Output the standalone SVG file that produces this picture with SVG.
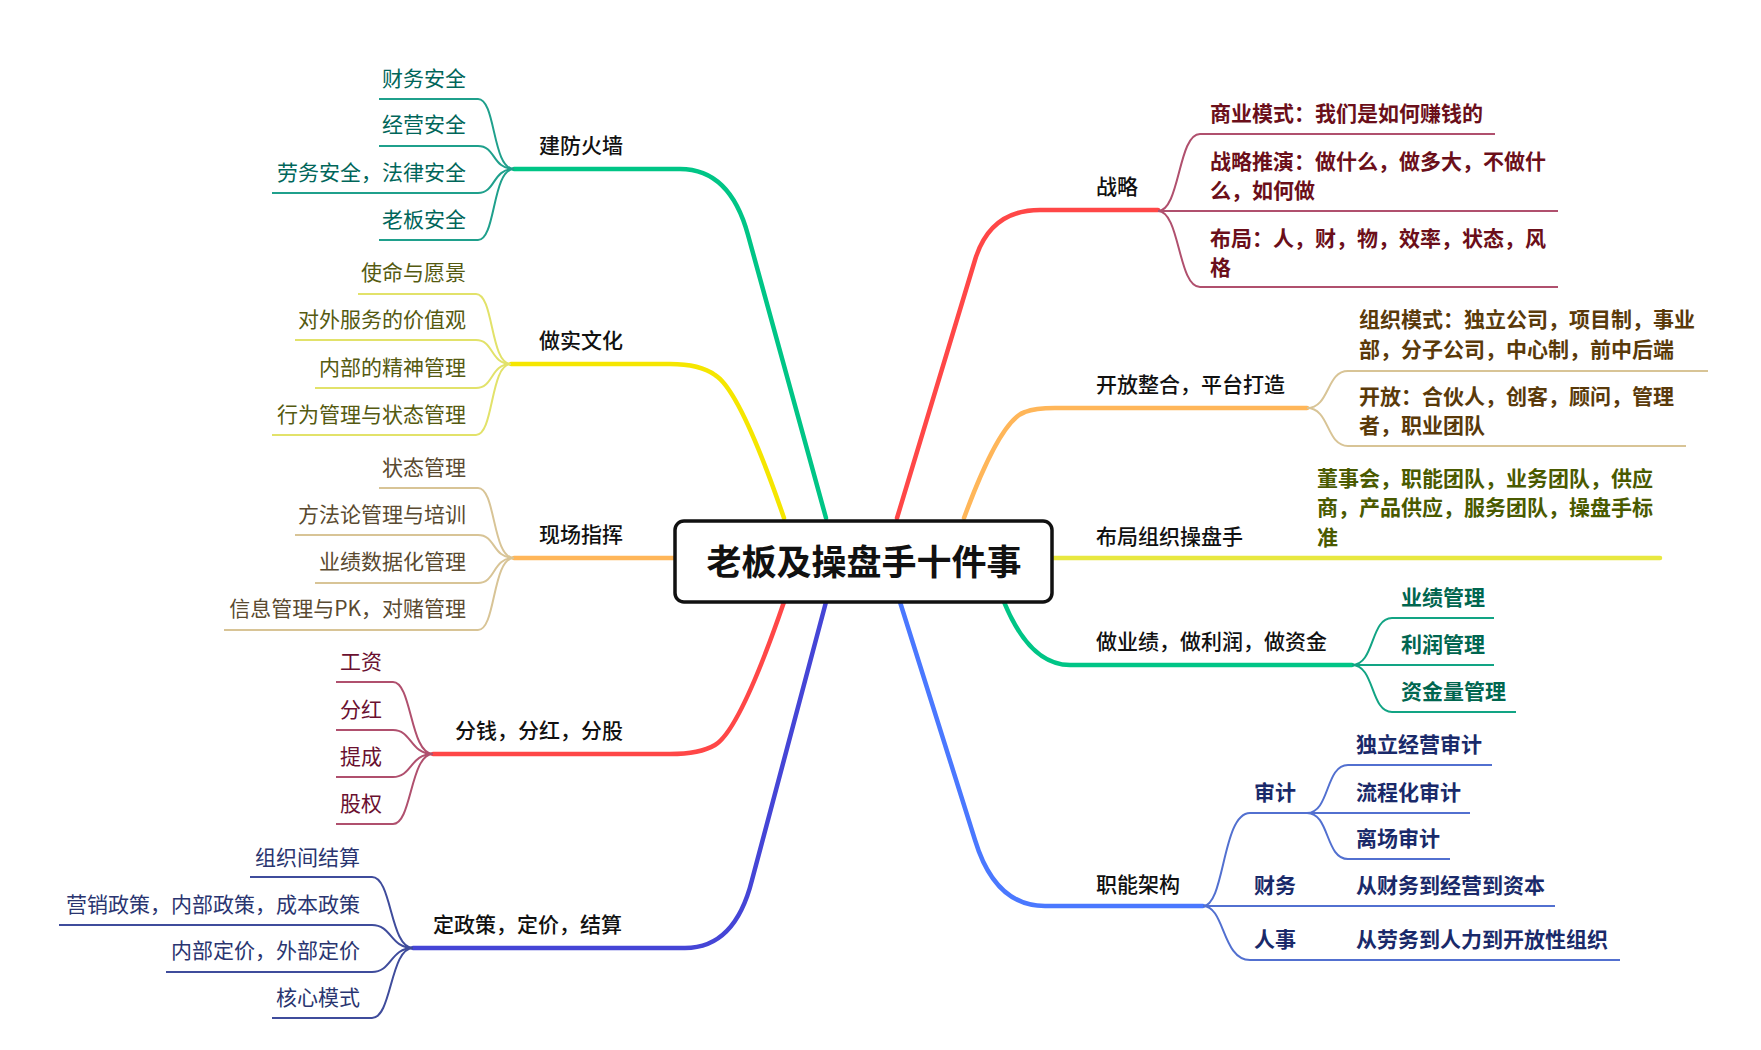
<svg xmlns="http://www.w3.org/2000/svg" width="1761" height="1050" viewBox="0 0 1761 1050">
<style>
text{font-family:"Noto Sans CJK SC","Noto Sans",sans-serif;font-size:21px}
.l1{fill:#111;font-weight:500}
.m{fill:none;stroke-width:4.5;stroke-linecap:round}
.c{fill:none;stroke-width:2}
.e{text-anchor:end}
.b{font-weight:700}
</style>
<rect width="1761" height="1050" fill="#fff"/>
<g id="connectors">
<path class="m" stroke="#00c586" d="M826,518 L748,235 Q730,169 680,169 H514"/>
<path class="m" stroke="#f5e600" d="M784,518 Q740,390 715,375 Q700,364 670,364 H511"/>
<path class="m" stroke="#ffb659" d="M675,558 H514"/>
<path class="m" stroke="#ff4747" d="M784,602 Q740,730 715,745 Q700,754 670,754 H433"/>
<path class="m" stroke="#4545d6" d="M826,602 L752,880 Q735,948 685,948 H413"/>
<path class="m" stroke="#ff4747" d="M897,518 L975,260 Q990,210 1040,210 H1158"/>
<path class="m" stroke="#ffb659" d="M964,518 Q1000,420 1025,412 Q1035,408 1055,408 H1307"/>
<path class="m" stroke="#e8e840" d="M1052,558 H1660"/>
<path class="m" stroke="#00c586" d="M1004,602 Q1030,665 1070,665 H1352"/>
<path class="m" stroke="#4a78ff" d="M900,602 L975,840 Q995,906 1045,906 H1203"/>
<g stroke="#1fa08c" class="c">
<path d="M514,169 C492,169 496,99 478,99 H379"/>
<path d="M514,169 C492,169 496,146 478,146 H379"/>
<path d="M514,169 C492,169 496,193 478,193 H272"/>
<path d="M514,169 C492,169 496,240 478,240 H379"/>
</g>
<g stroke="#e2e26a" class="c">
<path d="M511,364 C490,364 494,294 476,294 H358"/>
<path d="M511,364 C490,364 494,340 476,340 H295"/>
<path d="M511,364 C490,364 494,388 476,388 H315"/>
<path d="M511,364 C490,364 494,435 476,435 H272"/>
</g>
<g stroke="#d8c496" class="c">
<path d="M514,558 C492,558 496,488 478,488 H379"/>
<path d="M514,558 C492,558 496,535 478,535 H295"/>
<path d="M514,558 C492,558 496,583 478,583 H315"/>
<path d="M514,558 C492,558 496,630 478,630 H224"/>
</g>
<g stroke="#b0506e" class="c">
<path d="M433,754 C410,754 412,682 393,682 H336"/>
<path d="M433,754 C410,754 412,730 393,730 H336"/>
<path d="M433,754 C410,754 412,777 393,777 H336"/>
<path d="M433,754 C410,754 412,824 393,824 H336"/>
</g>
<g stroke="#3f4c9c" class="c">
<path d="M413,948 C390,948 392,877 372,877 H250"/>
<path d="M413,948 C390,948 392,925 372,925 H59"/>
<path d="M413,948 C390,948 392,972 372,972 H166"/>
<path d="M413,948 C390,948 392,1018 372,1018 H272"/>
</g>
<g stroke="#b0506e" class="c">
<path d="M1158,211 C1180,211 1178,134 1200,134 H1495"/>
<path d="M1158,211 H1558"/>
<path d="M1158,211 C1180,211 1178,287 1200,287 H1558"/>
</g>
<g stroke="#d8c496" class="c">
<path d="M1307,408 C1330,408 1326,371 1348,371 H1708"/>
<path d="M1307,408 C1330,408 1326,446 1348,446 H1686"/>
</g>
<g stroke="#12a484" class="c">
<path d="M1352,665 C1375,665 1370,618 1392,618 H1494"/>
<path d="M1352,665 H1494"/>
<path d="M1352,665 C1375,665 1370,712 1392,712 H1516"/>
</g>
<g stroke="#5270d0" class="c">
<path d="M1203,906 C1225,906 1222,813 1250,813 H1307"/>
<path d="M1203,906 H1555"/>
<path d="M1203,906 C1225,906 1222,960 1250,960 H1620"/>
<path d="M1307,813 C1330,813 1325,765 1348,765 H1492"/>
<path d="M1307,813 H1470"/>
<path d="M1307,813 C1330,813 1325,859 1348,859 H1450"/>
</g>
</g>
<g id="center">
<rect x="675" y="521" width="377" height="81" rx="9" fill="#fff" stroke="#111" stroke-width="3.5"/>
<text x="864" y="575" text-anchor="middle" style="font-size:35px;font-weight:700" fill="#111">老板及操盘手十件事</text>
</g>
<g id="n-jianfang">
<text class="l1" x="539" y="153">建防火墙</text>
<g fill="#00665a"><text class="e" x="466" y="86">财务安全</text><text class="e" x="466" y="132">经营安全</text><text class="e" x="466" y="180">劳务安全，法律安全</text><text class="e" x="466" y="227">老板安全</text></g>
</g>
<g id="n-zuoshi">
<text class="l1" x="539" y="348">做实文化</text>
<g fill="#555a10"><text class="e" x="466" y="280">使命与愿景</text><text class="e" x="466" y="327">对外服务的价值观</text><text class="e" x="466" y="375">内部的精神管理</text><text class="e" x="466" y="422">行为管理与状态管理</text></g>
</g>
<g id="n-xianchang">
<text class="l1" x="539" y="542">现场指挥</text>
<g fill="#5a4a30"><text class="e" x="466" y="475">状态管理</text><text class="e" x="466" y="522">方法论管理与培训</text><text class="e" x="466" y="569">业绩数据化管理</text><text class="e" x="466" y="616">信息管理与PK，对赌管理</text></g>
</g>
<g id="n-fenqian">
<text class="l1" x="455" y="738">分钱，分红，分股</text>
<g fill="#6a1030"><text class="e" x="382" y="669">工资</text><text class="e" x="382" y="717">分红</text><text class="e" x="382" y="764">提成</text><text class="e" x="382" y="811">股权</text></g>
</g>
<g id="n-dingzhengce">
<text class="l1" x="433" y="932">定政策，定价，结算</text>
<g fill="#2a3570"><text class="e" x="360" y="865">组织间结算</text><text class="e" x="360" y="912">营销政策，内部政策，成本政策</text><text class="e" x="360" y="958">内部定价，外部定价</text><text class="e" x="360" y="1005">核心模式</text></g>
</g>
<g id="n-zhanlue">
<text class="l1" x="1096" y="194">战略</text>
<g fill="#6b0f1a" class="b"><text x="1210" y="121">商业模式：我们是如何赚钱的</text><text x="1210" y="169">战略推演：做什么，做多大，不做什</text><text x="1210" y="198">么，如何做</text><text x="1210" y="246">布局：人，财，物，效率，状态，风</text><text x="1210" y="275">格</text></g>
</g>
<g id="n-kaifang">
<text class="l1" x="1096" y="392">开放整合，平台打造</text>
<g fill="#5a3a0a" class="b"><text x="1359" y="327">组织模式：独立公司，项目制，事业</text><text x="1359" y="357">部，分子公司，中心制，前中后端</text><text x="1359" y="404">开放：合伙人，创客，顾问，管理</text><text x="1359" y="433">者，职业团队</text></g>
</g>
<g id="n-buju">
<text class="l1" x="1096" y="544">布局组织操盘手</text>
<g fill="#4a5a00" class="b"><text x="1317" y="486">董事会，职能团队，业务团队，供应</text><text x="1317" y="515">商，产品供应，服务团队，操盘手标</text><text x="1317" y="545">准</text></g>
</g>
<g id="n-yeji">
<text class="l1" x="1096" y="649">做业绩，做利润，做资金</text>
<g fill="#00664f" class="b"><text x="1401" y="605">业绩管理</text><text x="1401" y="652">利润管理</text><text x="1401" y="699">资金量管理</text></g>
</g>
<g id="n-zhineng">
<text class="l1" x="1096" y="892">职能架构</text>
<g fill="#1a2a6a" class="b"><text x="1254" y="800">审计</text><text x="1254" y="893">财务</text><text x="1254" y="947">人事</text><text x="1356" y="752">独立经营审计</text><text x="1356" y="800">流程化审计</text><text x="1356" y="846">离场审计</text><text x="1356" y="893">从财务到经营到资本</text><text x="1356" y="947">从劳务到人力到开放性组织</text></g>
</g>
</svg>
